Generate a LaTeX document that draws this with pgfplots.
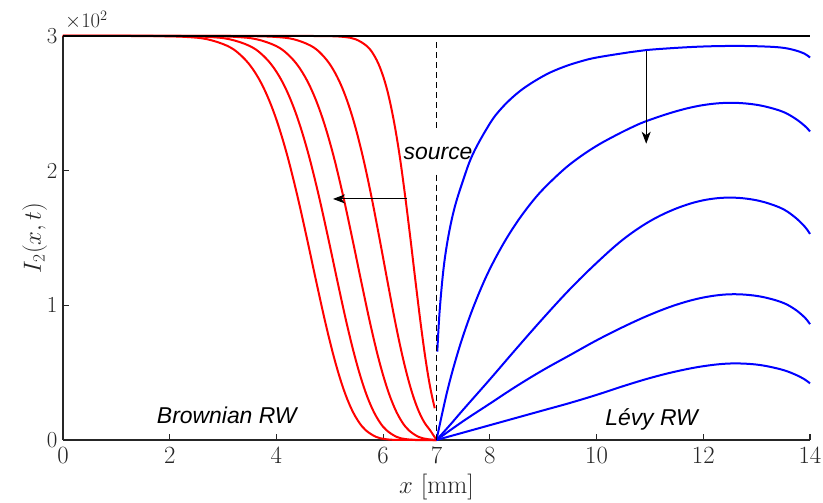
\documentclass[border=0pt]{standalone}
\usepackage{pgfplots}
\pgfplotsset{compat=1.18}
\usepackage{pgfplotstable}
\usepackage{fontspec}
\newfontfamily\hv{Liberation Sans}
\usetikzlibrary{arrows.meta}
\definecolor{axgray}{RGB}{38,38,38}

\pgfplotstableread{
x v
0 300
1.2 300
1.762 299.9
2.31 299.3
2.70 297.6
3.072 292.8
3.31 286.5
3.54 276.4
3.762 261.3
3.976 240.6
4.182 214.3
4.38 183.4
4.57 150
4.752 116.6
4.926 85.7
5.092 59.4
5.25 38.7
5.40 23.6
5.542 13.5
5.676 7.2
5.862 2.4
6.03 0.7
6.226 0.1
6.6 0
7.0 0
}\redA
\pgfplotstableread{
x v
0 300
1.6 300
2.19 299.9
2.733 299.3
3.119 297.6
3.487 292.8
3.723 286.5
3.95 276.4
4.17 261.3
4.382 240.6
4.586 214.3
4.782 183.4
4.97 150
5.15 116.6
5.322 85.7
5.487 59.4
5.643 38.7
5.792 23.6
5.932 13.5
6.065 7.2
6.249 2.4
6.415 0.7
6.609 0.1
7.0 0
}\redB
\pgfplotstableread{
x v
0 300
2.1 300
2.724 299.9
3.25 299.3
3.625 297.6
3.982 292.8
4.21 286.5
4.431 276.4
4.644 261.3
4.85 240.6
5.048 214.3
5.238 183.4
5.42 150
5.595 116.6
5.762 85.7
5.921 59.4
6.073 38.7
6.217 23.6
6.353 13.5
6.482 7.2
6.66 2.4
6.822 0.7
7.0 0
}\redC
\pgfplotstableread{
x v
0 300
3.0 300
3.515 299.9
3.986 299.3
4.322 297.6
4.642 292.8
4.846 286.5
5.044 276.4
5.235 261.3
5.419 240.6
5.596 214.3
5.767 183.4
5.93 150
6.087 116.6
6.236 85.7
6.379 59.4
6.515 38.7
6.644 23.6
6.766 13.5
6.881 7.2
7.0 0
}\redD
\pgfplotstableread{
x v
0 300
4.5 300
4.966 299.9
5.267 299.3
5.481 297.6
5.686 292.8
5.817 286.5
5.943 276.4
6.066 261.3
6.183 240.6
6.297 214.3
6.405 183.4
6.51 150
6.61 116.6
6.706 85.7
6.797 59.4
6.884 38.7
6.967 23.6
}\redE

\pgfplotstableread{
x v
7.015 65.6
7.065 99
7.16 136
7.31 168
7.5 193
7.69 213
8.0 235
8.2 245.5
8.44 255
8.7 263
9.06 271.5
9.38 277
9.69 281
10.0 284
10.63 288
10.94 289.6
11.5 291.2
12.0 292.2
12.5 292.6
13.0 292.4
13.44 291.5
13.7 289.6
13.9 286.8
14.0 284
}\blueA
\pgfplotstableread{
x v
7.0 0
7.2 36
7.4 65
7.6 89
7.8 109.4
8.0 127
8.25 145.5
8.5 161.3
8.75 174.8
9.0 186.3
9.38 200.7
9.69 210.3
10.0 218.4
10.3 225
10.63 231.6
10.94 236.9
11.5 244.2
12.0 248.7
12.5 250.4
13.0 248.9
13.44 244.5
13.7 239.3
13.9 233.3
14.0 229.1
}\blueB
\pgfplotstableread{
x v
7.0 0
7.25 11
7.5 22.5
8.0 45
8.5 68
9.0 90.5
9.5 112
10.0 131.5
10.5 149
11.0 162.5
11.5 172
12.0 178
12.5 180
13.0 178
13.44 172.5
13.7 166
13.9 158.5
14.0 153
}\blueC
\pgfplotstableread{
x v
7.0 0
7.5 14
8.0 27
8.5 40
9.0 52
9.5 63
10.0 74
10.5 84
11.0 93
11.5 100.5
12.0 105.8
12.5 108.2
13.0 107
13.44 102.7
13.7 97.5
13.9 91
14.0 86
}\blueD
\pgfplotstableread{
x v
7.0 0
7.5 5.5
8.0 11
8.5 16.5
9.0 22
9.5 27.5
10.0 33.5
10.5 40
11.0 46
11.5 51
12.0 54.8
12.5 56.8
13.0 56
13.44 52.6
13.7 49
13.9 45
14.0 42
}\blueE

\begin{document}
\begin{tikzpicture}
\begin{axis}[
  scale only axis,
  width=747bp, height=404bp,
  xmin=0, xmax=14, ymin=0, ymax=300,
  axis x line*=bottom, axis y line*=left,
  axis line style={axgray, line width=1.1pt, -},
  xtick={0,2,4,6,7,8,10,12,14},
  ytick={0,100,200,300}, yticklabels={0,1,2,3},
  scaled y ticks=false,
  tick align=inside, major tick length=6bp,
  tick style={axgray, line width=1.1pt},
  ticklabel style={font=\fontsize{23}{26}\selectfont, text=axgray},
  xticklabel style={yshift=-4bp},
  yticklabel style={xshift=-2bp},
  xlabel={$x$ [mm]}, ylabel={$I_2(x,t)$},
  label style={font=\fontsize{26}{30}\selectfont, text=axgray},
  xlabel style={yshift=-4bp},
  ylabel style={yshift=-7bp},
  clip=false,
  redline/.style={red, line width=2bp, smooth, tension=0.6},
  blueline/.style={blue, line width=2bp, smooth, tension=0.6},
]
\coordinate (ll) at (rel axis cs:0,0);
\coordinate (ur) at (rel axis cs:1,1);
\addplot[redline] table[x=x,y=v] {\redA};
\addplot[redline] table[x=x,y=v] {\redB};
\addplot[redline] table[x=x,y=v] {\redC};
\addplot[redline] table[x=x,y=v] {\redD};
\addplot[redline] table[x=x,y=v] {\redE};
\addplot[blueline] table[x=x,y=v] {\blueA};
\addplot[blueline] table[x=x,y=v] {\blueB};
\addplot[blueline] table[x=x,y=v] {\blueC};
\addplot[blueline] table[x=x,y=v] {\blueD};
\addplot[blueline] table[x=x,y=v] {\blueE};
\addplot[black, line width=1.6bp] coordinates {(0,300) (14,300)};
\addplot[black, line width=1.1bp, dash pattern=on 6bp off 4bp] coordinates {(7,295.5) (7,230)};
\addplot[black, line width=1.1bp, dash pattern=on 6bp off 4bp] coordinates {(7,197) (7,0)};
\draw[-{Stealth[length=12bp,width=9bp,inset=3.5bp]}, line width=1.1bp] (axis cs:6.45,179) -- (axis cs:5.06,179);
\draw[-{Stealth[length=12bp,width=9bp,inset=3.5bp]}, line width=1.1bp] (axis cs:10.93,289) -- (axis cs:10.93,220);
\node[anchor=base, font=\hv\itshape\fontsize{23}{26}\selectfont, inner sep=0pt] at (axis cs:7.03,208.4) {source};
\node[anchor=base, font=\hv\itshape\fontsize{23}{26}\selectfont, inner sep=0pt] at (axis cs:3.07,12.4) {Brownian RW};
\node[anchor=base, font=\hv\itshape\fontsize{23}{26}\selectfont, inner sep=0pt] at (axis cs:11.03,11.1) {Lévy RW};
\node[anchor=base west, inner sep=0pt, font=\fontsize{22}{26}\selectfont, text=axgray] at ([shift={(2bp,8bp)}]rel axis cs:0,1) {$\times10^{2}$};
\end{axis}
\pgfresetboundingbox
\path[use as bounding box] ([shift={(-63bp,-63bp)}]ll) rectangle ([shift={(13bp,36bp)}]ur);
\end{tikzpicture}
\end{document}
